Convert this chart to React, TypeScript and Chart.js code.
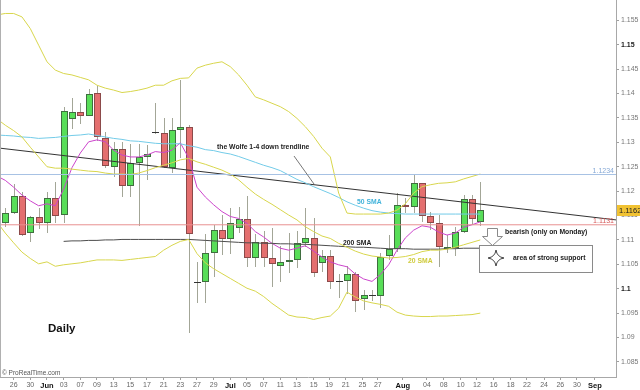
import { useEffect, useRef } from "react";
import { Chart, registerables } from "chart.js";

Chart.register(...registerables);

const FONT = '"Liberation Sans", Arial, Helvetica, sans-serif';

// ---- Daily candles (bar index 0 .. 57) ----
const opens = [1.1134, 1.11545, 1.1191, 1.11135, 1.1146, 1.1134, 1.1186, 1.1151, 1.13471, 1.13615, 1.13545, 1.14016, 1.13082, 1.12488, 1.12857, 1.12105, 1.12582, 1.12693, 1.132, 1.13197, 1.12467, 1.13252, 1.1332, 1.1013, 1.1013, 1.10725, 1.11203, 1.11018, 1.11238, 1.11422, 1.10623, 1.10951, 1.10623, 1.10471, 1.10553, 1.10588, 1.1093, 1.11045, 1.10533, 1.1067, 1.1013, 1.10164, 1.10301, 1.09789, 1.0985, 1.09857, 1.1067, 1.10814, 1.11715, 1.1168, 1.1216, 1.1149, 1.1134, 1.10807, 1.1084, 1.11168, 1.11832, 1.11373];
const highs = [1.1166, 1.12145, 1.1199, 1.115, 1.1165, 1.1198, 1.1219, 1.1373, 1.139, 1.138, 1.1409, 1.14154, 1.13217, 1.13012, 1.13012, 1.12965, 1.12965, 1.12945, 1.1381, 1.13492, 1.13492, 1.14277, 1.13355, 1.1055, 1.1112, 1.11305, 1.1151, 1.11648, 1.11668, 1.119, 1.1112, 1.11189, 1.11238, 1.10875, 1.11135, 1.11189, 1.11648, 1.11443, 1.10793, 1.10793, 1.10301, 1.10465, 1.10348, 1.09973, 1.0998, 1.10725, 1.111, 1.11967, 1.11852, 1.1233, 1.1217, 1.11578, 1.1151, 1.111, 1.1127, 1.1192, 1.1192, 1.12193];
const lows = [1.1127, 1.1153, 1.1109, 1.1096, 1.1122, 1.11135, 1.1135, 1.11353, 1.1327, 1.13375, 1.1354, 1.13033, 1.12467, 1.12295, 1.11885, 1.11885, 1.1129, 1.12227, 1.1316, 1.12467, 1.12365, 1.1267, 1.091, 1.097, 1.097, 1.10234, 1.107, 1.1071, 1.11135, 1.10451, 1.1045, 1.10438, 1.1003, 1.10143, 1.10316, 1.1042, 1.1086, 1.10246, 1.10348, 1.09988, 1.09803, 1.09891, 1.09529, 1.09564, 1.0975, 1.09611, 1.10588, 1.10758, 1.11545, 1.11545, 1.11373, 1.11203, 1.10451, 1.10725, 1.1067, 1.11135, 1.11326, 1.11285];
const closes = [1.11545, 1.119, 1.1111, 1.11475, 1.1134, 1.11865, 1.115, 1.13648, 1.13615, 1.13545, 1.14, 1.13102, 1.12514, 1.12857, 1.12105, 1.12582, 1.12705, 1.1276, 1.1321, 1.12494, 1.13252, 1.1332, 1.1112, 1.1013, 1.10725, 1.11203, 1.11018, 1.11352, 1.11422, 1.10623, 1.10951, 1.10623, 1.10506, 1.10553, 1.10588, 1.1093, 1.11045, 1.10328, 1.1067, 1.10131, 1.1015, 1.10301, 1.09754, 1.09871, 1.0987, 1.10656, 1.10814, 1.11715, 1.11668, 1.1216, 1.115, 1.1134, 1.1086, 1.1086, 1.11168, 1.11832, 1.11422, 1.1162];

// ---- Indicators (bar index -1 .. 57) ----
const bollUpper = [1.1561, 1.1564, 1.1564, 1.1557, 1.1533, 1.1499, 1.1465, 1.1448, 1.1441, 1.1438, 1.1433, 1.1428, 1.1417, 1.1411, 1.1407, 1.1402, 1.1404, 1.1407, 1.1411, 1.1417, 1.1417, 1.1426, 1.1431, 1.1432, 1.1452, 1.1458, 1.1462, 1.1465, 1.1455, 1.1438, 1.1417, 1.1393, 1.1387, 1.138, 1.1373, 1.1363, 1.1349, 1.1332, 1.1312, 1.1288, 1.127, 1.1196, 1.1155, 1.1153, 1.1153, 1.1153, 1.1153, 1.1155, 1.1161, 1.1174, 1.1196, 1.1209, 1.1213, 1.1216, 1.1217, 1.1219, 1.1225, 1.123, 1.1235];
const sma20 = [1.1348, 1.1335, 1.1324, 1.1311, 1.129, 1.127, 1.125, 1.1247, 1.1247, 1.1245, 1.1243, 1.1241, 1.124, 1.1237, 1.1235, 1.1235, 1.1234, 1.1237, 1.1242, 1.1248, 1.1253, 1.1258, 1.1264, 1.1267, 1.126, 1.1255, 1.1249, 1.1243, 1.1235, 1.1223, 1.1208, 1.1194, 1.1183, 1.1173, 1.1162, 1.1151, 1.1141, 1.1127, 1.1117, 1.1108, 1.1103, 1.1093, 1.1085, 1.1077, 1.1071, 1.1067, 1.1065, 1.1063, 1.1064, 1.1066, 1.107, 1.1076, 1.1079, 1.1079, 1.1081, 1.1085, 1.109, 1.1095, 1.11];
const bollLower = [1.1137, 1.1114, 1.1094, 1.1075, 1.1062, 1.1051, 1.1055, 1.1046, 1.1049, 1.1051, 1.1053, 1.1056, 1.1059, 1.1059, 1.1059, 1.1058, 1.106, 1.1062, 1.1064, 1.1066, 1.1079, 1.1089, 1.1097, 1.1101, 1.1072, 1.1053, 1.1041, 1.1031, 1.1021, 1.1011, 1.1001, 1.0995, 1.0984, 1.097, 1.0958, 1.0946, 1.0942, 1.0941, 1.0937, 1.0941, 1.0944, 1.096, 1.0993, 1.0983, 1.0975, 1.0971, 1.0968, 1.0964, 1.0952, 1.0946, 1.0944, 1.0943, 1.0943, 1.0944, 1.0944, 1.0945, 1.0946, 1.0947, 1.095];
const fastAvg = [1.1231, 1.1222, 1.1208, 1.1192, 1.118, 1.117, 1.1174, 1.117, 1.1204, 1.1248, 1.1278, 1.1301, 1.1305, 1.1301, 1.1284, 1.1274, 1.127, 1.127, 1.1274, 1.1281, 1.1279, 1.1284, 1.1299, 1.1268, 1.1208, 1.1188, 1.1172, 1.1158, 1.1148, 1.1144, 1.1134, 1.1117, 1.1106, 1.1093, 1.1083, 1.1079, 1.1083, 1.1088, 1.1077, 1.1065, 1.1055, 1.1049, 1.1045, 1.103, 1.102, 1.1015, 1.1029, 1.1049, 1.1079, 1.1104, 1.112, 1.1129, 1.1126, 1.1116, 1.111, 1.1114, 1.1126, 1.1131, 1.1137];
const sma50 = [1.1315, 1.1314, 1.1313, 1.1311, 1.131, 1.1308, 1.1309, 1.131, 1.1312, 1.1314, 1.1315, 1.1317, 1.1314, 1.1311, 1.1308, 1.1306, 1.1303, 1.1302, 1.13, 1.1298, 1.1297, 1.1297, 1.1297, 1.1293, 1.129, 1.1285, 1.1283, 1.1279, 1.1276, 1.1271, 1.1265, 1.1259, 1.1253, 1.1248, 1.1242, 1.1233, 1.1224, 1.1217, 1.1209, 1.1202, 1.1195, 1.1187, 1.1178, 1.1171, 1.1165, 1.116, 1.1157, 1.1155, 1.1154, 1.1153, 1.1153, 1.1153, 1.1153, 1.1153, 1.1153, 1.1153, 1.1153, 1.1153, 1.1153];
// 200 SMA (bar index 7 .. 57)
const SMA200_FIRST_BAR = 7;
const sma200 = [1.1097, 1.1098, 1.1098, 1.1099, 1.1099, 1.11, 1.11, 1.1101, 1.1101, 1.1101, 1.1101, 1.1101, 1.1101, 1.1101, 1.1101, 1.1101, 1.11, 1.1099, 1.1098, 1.1097, 1.1096, 1.1095, 1.1094, 1.1094, 1.1093, 1.1093, 1.1092, 1.1092, 1.1091, 1.1091, 1.109, 1.1089, 1.1088, 1.1087, 1.1086, 1.1085, 1.1085, 1.1084, 1.1083, 1.1082, 1.1082, 1.1082, 1.1081, 1.1081, 1.1081, 1.1081, 1.1082, 1.1082, 1.1083, 1.1083, 1.1083];

// Wolfe 1-4 trendline: value at left edge and right edge of the chart
const trendlineValues = [1.1288, 1.1141];
const resistanceLevel = 1.1234;
const supportLevel = 1.1131;
const lastPrice = 1.1162;

// ---- Axes ----
const X_MIN = -0.636;
const X_MAX = 73.28;
const Y_MIN = 1.08191;
const Y_MAX = 1.15916;
const yTicks = [1.085, 1.09, 1.095, 1.1, 1.105, 1.11, 1.115, 1.12, 1.125, 1.13, 1.135, 1.14, 1.145, 1.15, 1.155];
const yTickLabels = ["1.085", "1.09", "1.095", "1.1", "1.105", "1.11", "1.115", "1.12", "1.125", "1.13", "1.135", "1.14", "1.145", "1.15", "1.155"];
const xTickPos = [1, 3, 5, 7, 9, 11, 13, 15, 17, 19, 21, 23, 25, 27, 29, 31, 33, 35, 37, 38.85, 40.85, 42.85, 44.7, 47.7, 50.6, 52.6, 54.65, 56.6, 58.6, 60.65, 62.6, 64.65, 66.6, 68.6, 70.75];
const xTickLabels = ["26", "30", "Jun", "03", "07", "09", "13", "15", "17", "21", "23", "27", "29", "Jul", "05", "07", "11", "13", "15", "19", "21", "25", "27", "Aug", "04", "08", "10", "12", "16", "18", "22", "24", "26", "30", "Sep"];
const monthLabels = ["Jun", "Jul", "Aug", "Sep"];

const GREEN = "#58de58";
const GREEN_EDGE = "#3f6e3f";
const RED = "#e46f6f";
const RED_EDGE = "#8c4a4a";
const WICK = "#a3a697";
const YELLOW = "#d8d64c";
const MAGENTA = "#cc44cc";
const CYAN = "#72cbe8";

const fromBar = (arr: number[], first: number) => arr.map((v, i) => ({ x: i + first, y: v }));

const candlePlugin = {
  id: "candles",
  beforeDatasetsDraw(chart: any) {
    const { ctx, chartArea, scales } = chart;
    const xs = scales.x;
    const ys = scales.y;
    ctx.save();
    ctx.beginPath();
    ctx.rect(chartArea.left, chartArea.top, chartArea.right - chartArea.left, chartArea.bottom - chartArea.top);
    ctx.clip();
    ctx.lineWidth = 1;
    for (let i = 0; i < opens.length; i++) {
      const cx = Math.round(xs.getPixelForValue(i));
      const oy = ys.getPixelForValue(opens[i]);
      const cy = ys.getPixelForValue(closes[i]);
      const hy = Math.round(ys.getPixelForValue(highs[i]));
      const ly = Math.round(ys.getPixelForValue(lows[i]));
      const up = closes[i] >= opens[i];
      ctx.strokeStyle = WICK;
      ctx.beginPath();
      ctx.moveTo(cx + 0.5, hy);
      ctx.lineTo(cx + 0.5, ly);
      ctx.stroke();
      const top = Math.round(Math.min(oy, cy));
      const bot = Math.round(Math.max(oy, cy));
      if (bot - top < 2) {
        ctx.fillStyle = "#333";
        ctx.fillRect(cx - 3, top, 7, 1);
      } else {
        ctx.fillStyle = up ? GREEN : RED;
        ctx.fillRect(cx - 3, top, 7, bot - top);
        ctx.strokeStyle = up ? GREEN_EDGE : RED_EDGE;
        ctx.strokeRect(cx - 2.5, top + 0.5, 6, bot - top - 1);
      }
    }
    ctx.restore();
  },
};

const annotationPlugin = {
  id: "annotations",
  afterDraw(chart: any) {
    const { ctx, chartArea, scales } = chart;
    const ys = scales.y;
    ctx.save();
    // left frame line
    ctx.strokeStyle = "#b0b0b0";
    ctx.lineWidth = 1;
    ctx.beginPath();
    ctx.moveTo(chartArea.left + 0.5, chartArea.top);
    ctx.lineTo(chartArea.left + 0.5, chartArea.bottom);
    ctx.stroke();

    ctx.textBaseline = "middle";
    const bold = (s: number) => `bold ${s}px ${FONT}`;

    // level labels
    ctx.font = `7px ${FONT}`;
    ctx.textAlign = "right";
    ctx.fillStyle = "#86a9d6";
    ctx.fillText(String(resistanceLevel), chartArea.right - 2, ys.getPixelForValue(resistanceLevel) - 3.5);
    ctx.fillStyle = "#d65a5a";
    ctx.fillText(String(supportLevel), chartArea.right - 2, ys.getPixelForValue(supportLevel) - 3.5);

    // current price box
    const py = Math.round(ys.getPixelForValue(lastPrice));
    ctx.fillStyle = "#f1c232";
    ctx.fillRect(chartArea.right + 1, py - 5, 24, 11);
    ctx.fillStyle = "#222";
    ctx.textAlign = "left";
    ctx.font = `7.5px ${FONT}`;
    ctx.fillText(String(lastPrice), chartArea.right + 3, py + 0.5);

    // trendline annotation
    ctx.textAlign = "left";
    ctx.font = bold(6.8);
    ctx.fillStyle = "#222";
    ctx.fillText("the Wolfe 1-4 down trendline", 217, 147);
    ctx.strokeStyle = "#777";
    ctx.beginPath();
    ctx.moveTo(294, 156);
    ctx.lineTo(314, 184);
    ctx.stroke();

    ctx.fillStyle = "#3fb2da";
    ctx.fillText("50 SMA", 357, 202);
    ctx.fillStyle = "#222";
    ctx.fillText("200 SMA", 343, 243);
    ctx.fillStyle = "#cfcb3c";
    ctx.fillText("20 SMA", 408, 261);

    // arrow
    ctx.fillStyle = "#fff";
    ctx.strokeStyle = "#8a8a8a";
    ctx.beginPath();
    ctx.moveTo(487.5, 228.5);
    ctx.lineTo(497.5, 228.5);
    ctx.lineTo(497.5, 236.5);
    ctx.lineTo(502.5, 236.5);
    ctx.lineTo(492.5, 245.5);
    ctx.lineTo(482.5, 236.5);
    ctx.lineTo(487.5, 236.5);
    ctx.closePath();
    ctx.fill();
    ctx.stroke();

    ctx.fillStyle = "#222";
    ctx.fillText("bearish (only on Monday)", 505, 232);

    // support box
    ctx.fillStyle = "#fff";
    ctx.fillRect(479.5, 245.5, 113, 27);
    ctx.strokeStyle = "#8a8a8a";
    ctx.strokeRect(479.5, 245.5, 113, 27);
    // star
    const sx = 496, sy = 258;
    ctx.strokeStyle = "#444";
    ctx.beginPath();
    ctx.moveTo(sx, sy - 8);
    ctx.quadraticCurveTo(sx + 1, sy - 1, sx + 8, sy);
    ctx.quadraticCurveTo(sx + 1, sy + 1, sx, sy + 8);
    ctx.quadraticCurveTo(sx - 1, sy + 1, sx - 8, sy);
    ctx.quadraticCurveTo(sx - 1, sy - 1, sx, sy - 8);
    ctx.stroke();
    ctx.fillStyle = "#222";
    ctx.fillText("area of strong support", 513, 258);

    // Daily
    ctx.font = bold(11.5);
    ctx.fillStyle = "#111";
    ctx.fillText("Daily", 48, 329);

    ctx.font = `6.5px ${FONT}`;
    ctx.fillStyle = "#555";
    ctx.fillText("\u00a9 ProRealTime.com", 2, 373);
    ctx.restore();
  },
};

export default function App() {
  const ref = useRef<HTMLCanvasElement | null>(null);
  useEffect(() => {
    if (!ref.current) return;
    const line = (data: any[], color: string, width = 1) => ({
      data,
      borderColor: color,
      backgroundColor: color,
      borderWidth: width,
      pointRadius: 0,
      tension: 0,
      fill: false,
    });
    const chart = new Chart(ref.current, {
      type: "line",
      data: {
        datasets: [
          line([{ x: X_MIN, y: resistanceLevel }, { x: X_MAX, y: resistanceLevel }], "#a7c2e4"),
          line([{ x: X_MIN, y: supportLevel }, { x: X_MAX, y: supportLevel }], "#e89090"),
          line(fromBar(bollUpper, -1), YELLOW),
          line(fromBar(bollLower, -1), YELLOW),
          line(fromBar(sma20, -1), YELLOW),
          line(fromBar(sma200, SMA200_FIRST_BAR), "#4d4d4d"),
          line(fromBar(sma50, -1), CYAN),
          line(fromBar(fastAvg, -1), MAGENTA),
          line([{ x: X_MIN, y: trendlineValues[0] }, { x: X_MAX, y: trendlineValues[1] }], "#333333"),
        ] as any,
      },
      options: {
        responsive: false,
        animation: false,
        devicePixelRatio: 1,
        layout: { padding: 0 },
        plugins: { legend: { display: false }, tooltip: { enabled: false } },
        scales: {
          x: {
            type: "linear",
            position: "bottom",
            min: X_MIN,
            max: X_MAX,
            afterBuildTicks: (s: any) => {
              s.ticks = xTickPos.map((v) => ({ value: v }));
            },
            afterFit: (s: any) => {
              s.height = 13;
              s.paddingLeft = 0;
              s.paddingRight = 0;
            },
            ticks: {
              autoSkip: false,
              maxRotation: 0,
              minRotation: 0,
              padding: 1,
              callback: (_v: any, i: number) => xTickLabels[i],
              font: (c: any) => {
                const lab = xTickLabels[c.index];
                const m = monthLabels.includes(lab);
                return { family: FONT, size: m ? 7.5 : 7, weight: m ? "bold" : "normal" };
              },
              color: (c: any) => (monthLabels.includes(xTickLabels[c.index]) ? "#111" : "#666"),
            },
            grid: { drawOnChartArea: false, drawTicks: true, tickLength: 3, color: "#a0a0a0" },
            border: { display: true, color: "#a8a8a8" },
          },
          y: {
            type: "linear",
            position: "right",
            min: Y_MIN,
            max: Y_MAX,
            afterBuildTicks: (s: any) => {
              s.ticks = yTicks.map((v) => ({ value: v }));
            },
            afterFit: (s: any) => {
              s.width = 24;
              s.paddingTop = 0;
              s.paddingBottom = 0;
            },
            ticks: {
              padding: 2,
              callback: (_v: any, i: number) => yTickLabels[i],
              font: (c: any) => {
                const lab = yTickLabels[c.index];
                const b = lab === "1.15" || lab === "1.1";
                return { family: FONT, size: 7, weight: b ? "bold" : "normal" };
              },
              color: (c: any) => {
                const lab = yTickLabels[c.index];
                return lab === "1.15" || lab === "1.1" ? "#222" : "#777";
              },
            },
            grid: { drawOnChartArea: false, drawTicks: true, tickLength: 3, color: "#a0a0a0" },
            border: { display: true, color: "#a8a8a8" },
          },
        },
      } as any,
      plugins: [candlePlugin, annotationPlugin],
    });
    return () => chart.destroy();
  }, []);
  return (
    <div style={{ position: "fixed", left: 0, top: 0, width: 640, height: 390, background: "#fff" }}>
      <canvas ref={ref} width={640} height={390} style={{ display: "block" }} />
    </div>
  );
}
